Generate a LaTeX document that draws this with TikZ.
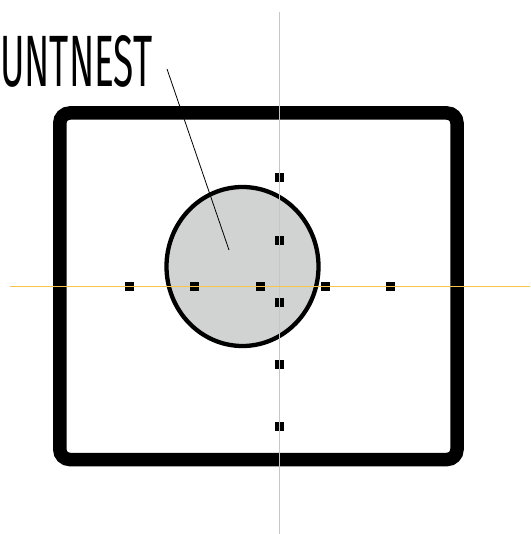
\documentclass[tikz,border=0pt]{standalone}
\usepackage{fontspec}
\setmainfont{Fira Sans}
\usetikzlibrary{shapes.geometric}
\definecolor{guide}{RGB}{248,198,70}
\definecolor{discfill}{RGB}{209,211,210}
\begin{document}
\begin{tikzpicture}[x=1pt,y=-1pt,
  marker/.style={fill=black,minimum width=9pt,minimum height=9pt,inner sep=0pt,draw=none},
  guideline/.style={draw=guide,line width=1.2pt},
  frame/.style={draw=black,line width=13.5pt,rounded corners=10pt},
  disc/.style={draw=black,line width=4.3pt,fill=discfill,ellipse,minimum width=152pt,minimum height=159pt,inner sep=0pt},
  leader/.style={draw=black,line width=0.8pt}]
\useasboundingbox (0,0) rectangle (530,534);
% frame
\draw[frame] (59.8,113) rectangle (457,459.5);
% disc
\node[disc] (disc) at (242.5,266.5) {};
% markers on horizontal axis
\foreach \i/\xx in {h1/129.5,h2/194.5,h3/260,h4/325,h5/390}
  \node[marker] (\i) at (\xx,286.5) {};
% markers on vertical axis
\foreach \i/\yy in {v1/177.5,v2/240,v3/302,v4/364,v5/426}
  \node[marker] (\i) at (279.5,\yy) {};
% guide lines
\coordinate (hl) at (9.5,286.5);
\coordinate (hr) at (530,286.5);
\coordinate (vt) at (279.5,12);
\coordinate (vb) at (279.5,534);
\draw[guideline] (hl) -- (hr);
\draw[guideline] (vt) -- (vb);
% label
\node[anchor=south west,inner sep=0pt] (label) at (0,88) {\resizebox{152pt}{51pt}{UNTNEST}};
\coordinate (lstart) at (167,69);
\coordinate (lend) at (229,250);
\draw[leader] (lstart) -- (lend);
\end{tikzpicture}
\end{document}
